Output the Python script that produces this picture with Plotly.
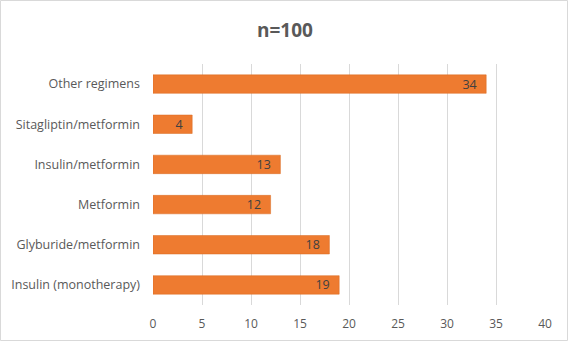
import plotly.graph_objects as go

categories = ["Insulin (monotherapy)", "Glyburide/metformin", "Metformin",
              "Insulin/metformin", "Sitagliptin/metformin", "Other regimens"]
values = [19, 18, 12, 13, 4, 34]
x_ticks = [0, 5, 10, 15, 20, 25, 30, 35, 40]

W, H = 569, 342
L, R, T, B = 153, 24, 64, 37
pw, ph = W - L - R, H - T - B

fig = go.Figure(go.Bar(
    y=categories, x=values, orientation="h",
    marker=dict(color="#EE7B30", line=dict(color="#D86A20", width=0.5)),
    text=[str(v) + "  " for v in values], textposition="inside", insidetextanchor="end",
    textangle=0, constraintext="none",
    textfont=dict(color="#404040", size=12.5, family="Open Sans"),
    width=0.46, hoverinfo="skip",
))

fig.update_layout(
    width=W, height=H,
    margin=dict(l=L, r=R, t=T, b=B),
    paper_bgcolor="white", plot_bgcolor="white",
    title=dict(text="<b>n=100</b>", x=285 / W, xanchor="center", y=1 - 30 / H, yanchor="middle",
               font=dict(size=19, color="#595959", family="Open Sans")),
    font=dict(family="Open Sans", color="#595959", size=12),
    xaxis=dict(range=[0, 40], tickvals=x_ticks, showgrid=True, gridcolor="#D9D9D9",
               gridwidth=1, zeroline=False, showline=False, ticks="", automargin=False,
               ticklabelstandoff=10,
               tickfont=dict(size=12, color="#595959")),
    yaxis=dict(showgrid=False, ticks="", showline=False, automargin=False,
               ticklabelstandoff=12,
               tickfont=dict(size=12.5, color="#595959")),
    showlegend=False,
    shapes=[dict(type="rect", xref="paper", yref="paper",
                 x0=(0.5 - L) / pw, x1=(W - 1.5 - L) / pw,
                 y0=-(B - 1.5) / ph, y1=1 + (T - 0.5) / ph,
                 line=dict(color="#D9D9D9", width=1))],
)

fig.write_html("out.html", config={"displayModeBar": False},
               post_script="document.body.style.margin='0';")
